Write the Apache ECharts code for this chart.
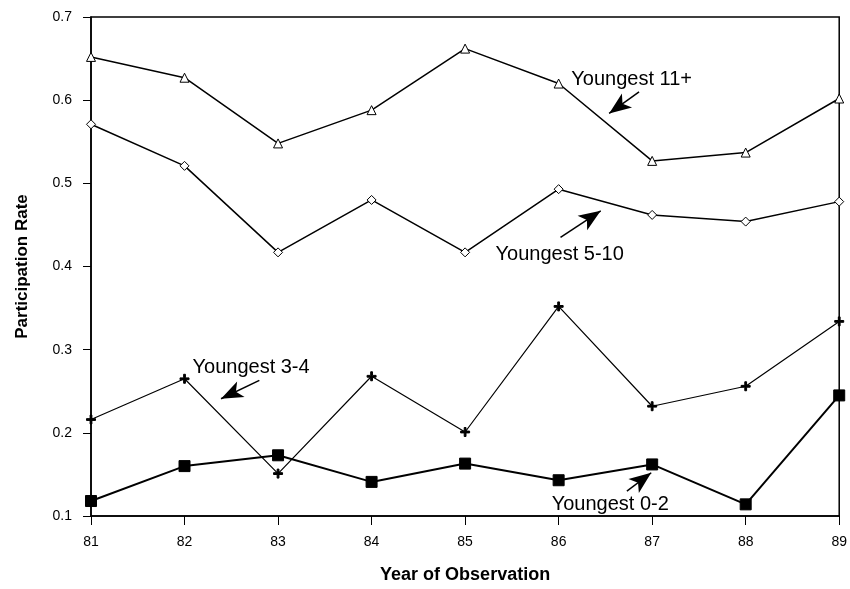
<!DOCTYPE html>
<html>
<head>
<meta charset="utf-8">
<script src="https://cdn.jsdelivr.net/npm/echarts@6/dist/echarts.min.js"></script>
<style>
html,body{margin:0;padding:0;background:#fff;}
#chart{width:850px;height:589px;}
</style>
</head>
<body>
<div id="chart"></div>
<script>
// years of observation
var years = [81, 82, 83, 84, 85, 86, 87, 88, 89];
// participation rate by age of youngest child
var youngest11 = [0.652, 0.627, 0.548, 0.588, 0.662, 0.620, 0.527, 0.537, 0.602];
var youngest510 = [0.571, 0.521, 0.417, 0.480, 0.417, 0.493, 0.462, 0.454, 0.478];
var youngest34 = [0.216, 0.265, 0.151, 0.268, 0.201, 0.352, 0.232, 0.256, 0.334];
var youngest02 = [0.118, 0.160, 0.173, 0.141, 0.163, 0.143, 0.162, 0.114, 0.245];
var yTicks = [0.1, 0.2, 0.3, 0.4, 0.5, 0.6, 0.7];

// annotation labels: [text, x, y] in data units, arrows: [x0, y0, x1, y1]
var noteText = [
	['Youngest 11+', 86.13, 0.625],
	['Youngest 5-10', 85.32, 0.414],
	['Youngest 3-4', 82.08, 0.279],
	['Youngest 0-2', 85.92, 0.114]
];
var noteArrows = [
	[86.86, 0.610, 86.54, 0.584],
	[86.02, 0.435, 86.45, 0.467],
	[82.80, 0.263, 82.39, 0.241],
	[86.73, 0.130, 86.99, 0.152]
];

var FONT = "'Liberation Sans', Arial, sans-serif";
var plusPath = 'path://M4,0 L6,0 L6,4 L10,4 L10,6 L6,6 L6,10 L4,10 L4,6 L0,6 L0,4 L4,4 Z';

function pairs(vals){
	var out = [];
	for (var i = 0; i < years.length; i++) {
		out.push([years[i], vals[i]]);
	}
	return out;
}

function lineSeries(vals, symbol, size, filled, width){
	return {
		type: 'line',
		data: pairs(vals),
		symbol: symbol,
		symbolSize: size,
		showAllSymbol: true,
		lineStyle: {color: '#000', width: width},
		itemStyle: {color: filled ? '#000' : '#fff', borderColor: '#000', borderWidth: 1},
		z: filled ? 3 : 2,
		animation: false
	};
}

var myChart = echarts.init(document.getElementById('chart'));

var arrowLines = [];
for (var i = 0; i < noteArrows.length; i++) {
	var a = noteArrows[i];
	arrowLines.push([{coord: [a[0], a[1]]}, {coord: [a[2], a[3]]}]);
}
var labelPoints = [];
for (var j = 0; j < noteText.length; j++) {
	labelPoints.push({
		coord: [noteText[j][1], noteText[j][2]],
		value: noteText[j][0]
	});
}

//箭头和文字标注
var annot = {
	type: 'scatter',
	data: [],
	silent: true,
	animation: false,
	markLine: {
		silent: true,
		animation: false,
		symbol: ['none', 'arrow'],
		symbolSize: [13, 22],
		label: {show: false},
		lineStyle: {color: '#000', width: 1.5, type: 'solid'},
		data: arrowLines
	},
	markPoint: {
		silent: true,
		animation: false,
		symbol: 'rect',
		symbolSize: 1,
		itemStyle: {color: 'rgba(0,0,0,0)'},
		label: {
			show: true,
			position: 'right',
			distance: 0,
			formatter: '{c}',
			color: '#000',
			fontFamily: FONT,
			fontSize: 20
		},
		data: labelPoints
	}
};

option = {
	backgroundColor: '#fff',
	animation: false,
	grid: {
		left: 91,
		right: 10,
		top: 17,
		bottom: 65,
		show: true,
		borderColor: '#000',
		borderWidth: 1.5
	},
	xAxis: {
		type: 'value',
		min: years[0],
		max: years[years.length - 1],
		interval: 1,
		name: 'Year of Observation',
		nameLocation: 'middle',
		nameGap: 50,
		nameTextStyle: {color: '#000', fontFamily: FONT, fontSize: 18, fontWeight: 'bold'},
		axisLine: {lineStyle: {color: '#000', width: 1.5}},
		axisTick: {show: true, inside: false, length: 9, lineStyle: {color: '#000'}},
		axisLabel: {color: '#000', fontFamily: FONT, fontSize: 14, margin: 19},
		splitLine: {show: false}
	},
	yAxis: {
		type: 'value',
		min: yTicks[0],
		max: yTicks[yTicks.length - 1],
		interval: 0.1,
		name: 'Participation Rate',
		nameLocation: 'middle',
		nameGap: 60,
		nameTextStyle: {color: '#000', fontFamily: FONT, fontSize: 17, fontWeight: 'bold'},
		axisLine: {show: true, lineStyle: {color: '#000', width: 1.5}},
		axisTick: {show: true, inside: false, length: 8, lineStyle: {color: '#000'}},
		axisLabel: {
			color: '#000', fontFamily: FONT, fontSize: 14, margin: 19,
			formatter: function(v){ return v.toFixed(1); }
		},
		splitLine: {show: false}
	},
	series: [
		lineSeries(youngest11, 'triangle', 9, false, 1.5),
		lineSeries(youngest510, 'diamond', 9, false, 1.5),
		lineSeries(youngest34, plusPath, 9, true, 1.2),
		lineSeries(youngest02, 'rect', 11, true, 2),
		annot
	]
};
myChart.setOption(option);
</script>
</body>
</html>
